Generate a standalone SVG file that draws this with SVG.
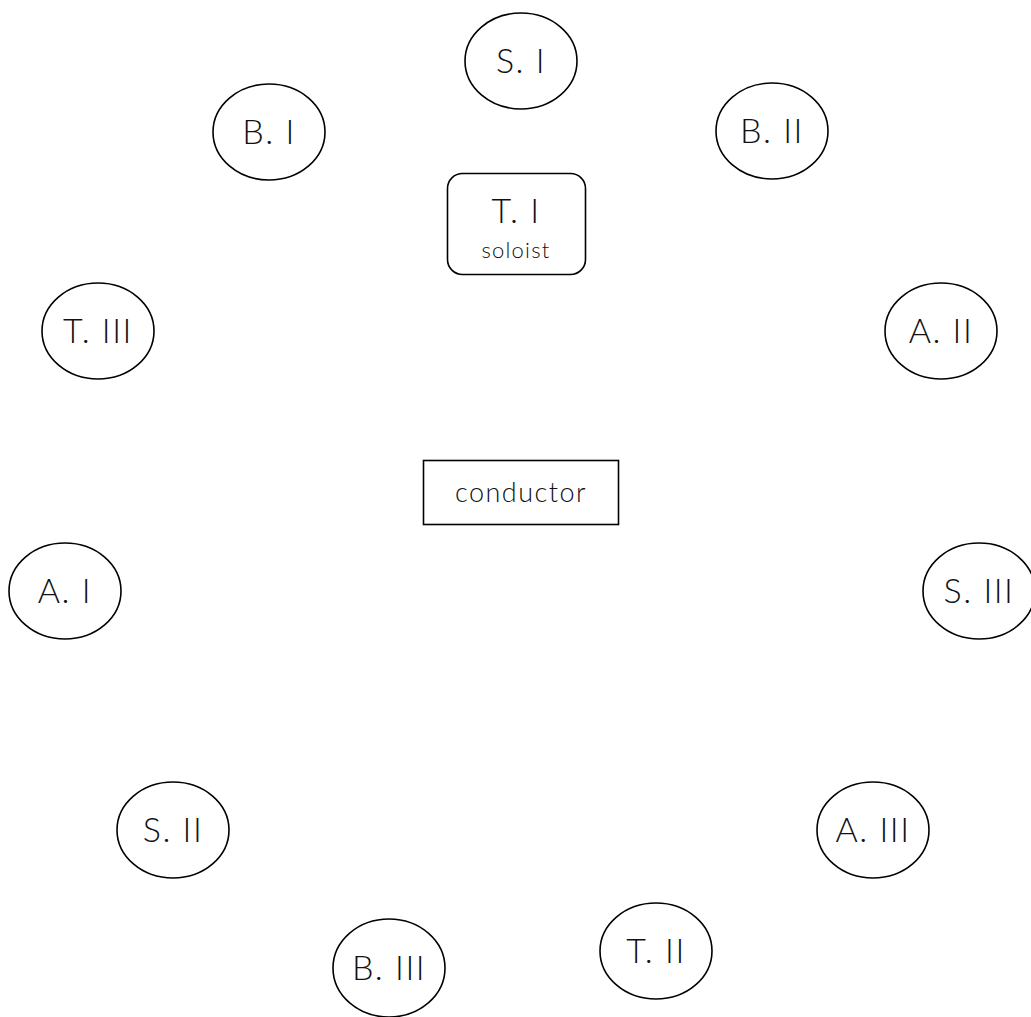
<svg xmlns="http://www.w3.org/2000/svg" width="1031" height="1017" viewBox="0 0 1031 1017">
<style>
.n{fill:#fff;stroke:#000;stroke-width:1.6}
.t{font-family:"Lato","Open Sans","Liberation Sans",sans-serif;font-weight:300;font-size:34px;letter-spacing:1.5px;fill:#111;text-anchor:middle}
.s{font-size:22px;letter-spacing:1.2px}
.c{font-size:27px;letter-spacing:1.5px}
</style>
<rect width="1031" height="1017" fill="#fff"/>
<g id="connectors"></g>
<g id="S1"><ellipse class="n" cx="521" cy="61" rx="56" ry="48"/><text class="t" x="521" y="73">S. I</text></g>
<g id="B1"><ellipse class="n" cx="269" cy="132" rx="56" ry="48"/><text class="t" x="269" y="144">B. I</text></g>
<g id="B2"><ellipse class="n" cx="772" cy="131" rx="56" ry="48"/><text class="t" x="772" y="143">B. II</text></g>
<g id="T1"><rect class="n" x="447.5" y="173.5" width="138" height="101" rx="15"/><text class="t" x="516" y="223">T. I</text><text class="t s" x="516" y="258">soloist</text></g>
<g id="T3"><ellipse class="n" cx="98" cy="331" rx="56" ry="48"/><text class="t" x="98" y="343">T. III</text></g>
<g id="A2"><ellipse class="n" cx="941" cy="331" rx="56" ry="48"/><text class="t" x="941" y="343">A. II</text></g>
<g id="conductor"><rect class="n" x="423.5" y="460.5" width="195" height="64"/><text class="t c" x="521" y="502">conductor</text></g>
<g id="A1"><ellipse class="n" cx="65" cy="591" rx="56" ry="48"/><text class="t" x="65" y="603">A. I</text></g>
<g id="S3"><ellipse class="n" cx="979" cy="591" rx="56" ry="48"/><text class="t" x="979" y="603">S. III</text></g>
<g id="S2"><ellipse class="n" cx="173" cy="830" rx="56" ry="48"/><text class="t" x="173" y="842">S. II</text></g>
<g id="A3"><ellipse class="n" cx="873" cy="830" rx="56" ry="48"/><text class="t" x="873" y="842">A. III</text></g>
<g id="B3"><ellipse class="n" cx="389" cy="968" rx="56" ry="49"/><text class="t" x="389" y="980">B. III</text></g>
<g id="T2"><ellipse class="n" cx="656" cy="951" rx="56" ry="48"/><text class="t" x="656" y="963">T. II</text></g>
</svg>
